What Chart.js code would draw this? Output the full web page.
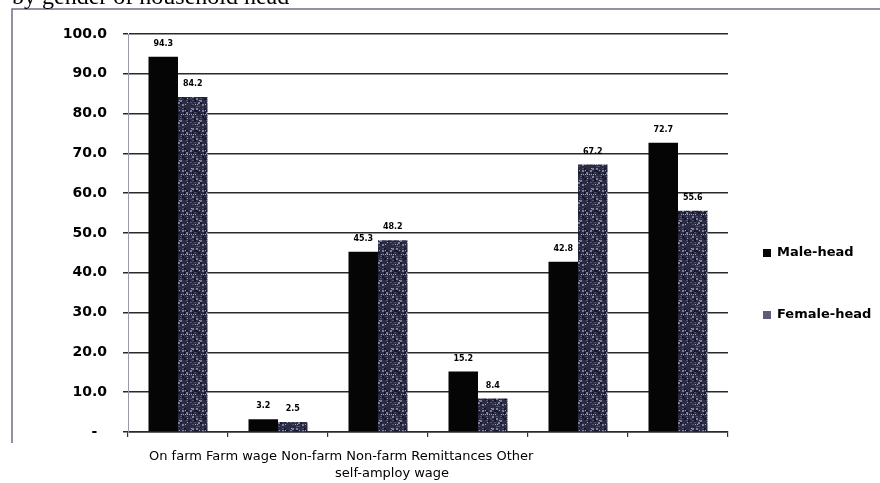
<!DOCTYPE html>
<html>
<head>
<meta charset="utf-8">
<script src="https://cdn.jsdelivr.net/npm/chart.js@4/dist/chart.umd.min.js"></script>
<style>
  html, body { margin: 0; padding: 0; background: #ffffff; }
  #wrap { position: relative; width: 880px; height: 483px; overflow: hidden; }
  canvas { display: block; }
</style>
</head>
<body>
<div id="wrap"><canvas id="chart" width="880" height="483"></canvas></div>
<script>
// Income sources by gender of household head (%)
const categories = ['On farm', 'Farm wage', 'Non-farm self-amploy', 'Non-farm wage', 'Remittances', 'Other'];
const maleHead   = [94.3, 3.2, 45.3, 15.2, 42.8, 72.7];
const femaleHead = [84.2, 2.5, 48.2, 8.4, 67.2, 55.6];
const seriesNames = ['Male-head', 'Female-head'];
const yTicks = [0, 10, 20, 30, 40, 50, 60, 70, 80, 90, 100];
const titleText = 'by gender of household head';
const captionLines = ['On farm Farm wage Non-farm Non-farm Remittances Other', 'self-amploy wage'];

// mottled fill used for the female-head bars
function grainPattern() {
  const n = 20;
  const t = document.createElement('canvas');
  t.width = n; t.height = n;
  const g = t.getContext('2d');
  g.fillStyle = '#2b2c44';
  g.fillRect(0, 0, n, n);
  for (let y = 0; y < n; y += 2) {
    for (let x = 0; x < n; x += 2) {
      const h = (x * 97 + y * 131 + x * y * 29 + (x ^ y) * 7) % 31;
      if (h < 4) { g.fillStyle = '#7c7f9c'; g.fillRect(x, y, 2, 2); }
      else if (h < 10) { g.fillStyle = '#52546f'; g.fillRect(x, y, 2, 1); }
      else if (h < 13) { g.fillStyle = '#a2a4ba'; g.fillRect(x + 1, y, 1, 1); }
      else if (h > 25) { g.fillStyle = '#16172a'; g.fillRect(x, y, 2, 2); }
    }
  }
  return g.createPattern(t, 'repeat');
}
const femaleFill = grainPattern();

const framePlugin = {
  id: 'frame',
  beforeDraw(chart) {
    const c = chart.ctx;
    c.save();
    c.fillStyle = '#ffffff';
    c.fillRect(0, 0, chart.width, chart.height);
    c.strokeStyle = '#6e6f86';
    c.lineWidth = 1.5;
    c.beginPath();
    c.moveTo(12, 443);
    c.lineTo(12, 9);
    c.lineTo(880, 9);
    c.stroke();
    // title line, partly cut by the top edge
    c.fillStyle = '#000000';
    c.font = '24px "Liberation Serif", "Times New Roman", serif';
    c.textAlign = 'left';
    c.textBaseline = 'alphabetic';
    c.fillText(titleText, 12, 4);
    c.restore();
  }
};

const labelsPlugin = {
  id: 'valueLabels',
  afterDatasetsDraw(chart) {
    const c = chart.ctx;
    c.save();
    c.fillStyle = '#000000';
    c.font = 'bold 8px "DejaVu Sans", sans-serif';
    c.textAlign = 'center';
    c.textBaseline = 'middle';
    chart.data.datasets.forEach((ds, i) => {
      chart.getDatasetMeta(i).data.forEach((bar, j) => {
        c.fillText(ds.data[j].toFixed(1), bar.x, bar.y - 13);
      });
    });
    c.restore();
  }
};

const legendPlugin = {
  id: 'sideLegend',
  afterDraw(chart) {
    const c = chart.ctx;
    c.save();
    c.font = 'bold 13px "DejaVu Sans", sans-serif';
    c.textAlign = 'left';
    c.textBaseline = 'middle';
    const ys = [253, 315];
    chart.data.datasets.forEach((ds, i) => {
      c.fillStyle = i === 0 ? ds.backgroundColor : '#5c5e78';
      c.fillRect(763, ys[i] - 4, 8, 8);
      c.fillStyle = '#000000';
      c.fillText(ds.label, 777, ys[i]);
    });
    c.restore();
  }
};

const captionPlugin = {
  id: 'axisCaption',
  afterDraw(chart) {
    const c = chart.ctx;
    c.save();
    c.fillStyle = '#000000';
    c.font = '13px "DejaVu Sans", sans-serif';
    c.textAlign = 'left';
    c.textBaseline = 'middle';
    c.fillText(captionLines[0], 149, 457);
    c.fillText(captionLines[1], 335, 474);
    c.restore();
  }
};

new Chart(document.getElementById('chart'), {
  type: 'bar',
  data: {
    labels: categories,
    datasets: [
      { label: seriesNames[0], data: maleHead, backgroundColor: '#050505', borderWidth: 0,
        categoryPercentage: 0.59, barPercentage: 1.0 },
      { label: seriesNames[1], data: femaleHead, backgroundColor: femaleFill, borderWidth: 0,
        categoryPercentage: 0.59, barPercentage: 1.0 }
    ]
  },
  options: {
    responsive: false,
    animation: false,
    devicePixelRatio: 1,
    layout: { padding: { left: 0, top: 34, right: 152, bottom: 0 } },
    plugins: { legend: { display: false }, tooltip: { enabled: false }, title: { display: false } },
    scales: {
      x: {
        grid: { offset: true, drawOnChartArea: false, drawTicks: true, tickLength: 5, color: '#333333', lineWidth: 1.2 },
        border: { color: '#2a2a2a', width: 1.5 },
        ticks: { display: false },
        afterFit(s) { s.height = 51; }
      },
      y: {
        min: 0, max: 100,
        afterBuildTicks(s) { s.ticks = yTicks.map(v => ({ value: v })); },
        grid: { color: '#2a2a2a', lineWidth: 1.5, tickLength: 5 },
        border: { color: '#9a9aa6', width: 1 },
        ticks: {
          padding: 16,
          color: '#000000',
          font: { family: '"DejaVu Sans", sans-serif', size: 14, weight: 'bold' },
          callback: v => (v === 0 ? '-  ' : v.toFixed(1))
        },
        afterFit(s) { s.width = 128; }
      }
    }
  },
  plugins: [framePlugin, labelsPlugin, legendPlugin, captionPlugin]
});
</script>
</body>
</html>
